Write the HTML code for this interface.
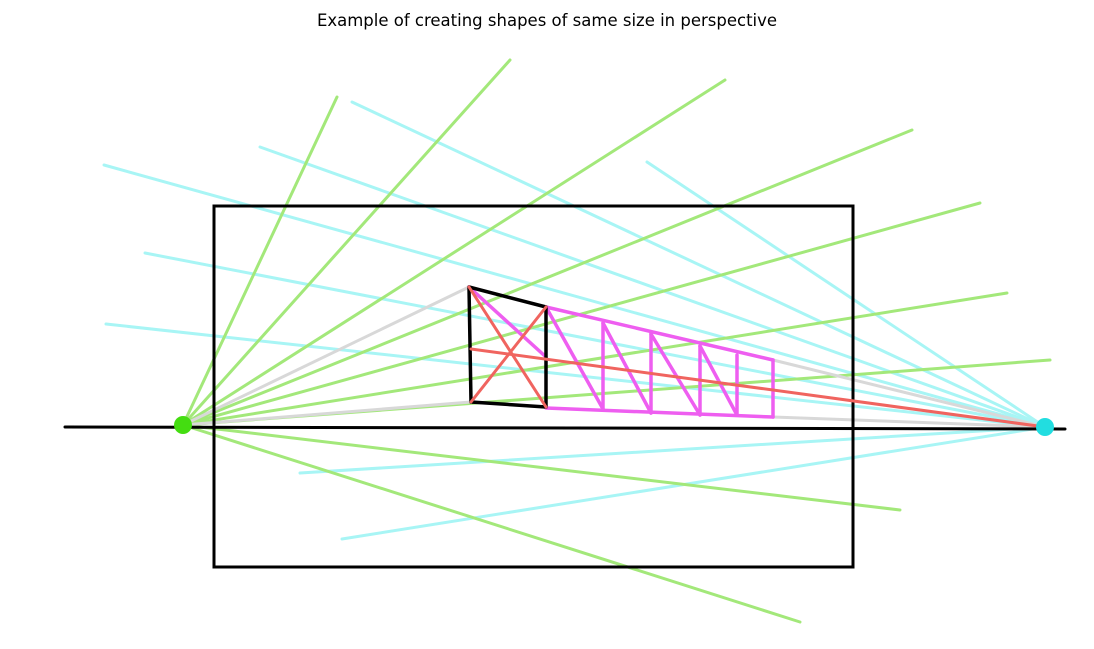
<!DOCTYPE html>
<html><head><meta charset="utf-8"><style>
html,body{margin:0;padding:0;background:#fff;width:1094px;height:649px;overflow:hidden}
</style></head><body>
<svg id="chart" width="1094" height="649" viewBox="0 0 1094 649" xmlns="http://www.w3.org/2000/svg">
<text x="547" y="26" text-anchor="middle" font-family="'DejaVu Sans','Liberation Sans',sans-serif" font-size="16.5" fill="#000">Example of creating shapes of same size in perspective</text>
<g id="layer"></g>
</svg>
<script>
const leftVP=[183,425];
const rightVP=[1045,427];
const greenEnds=[[337,97],[510,60],[725,80],[912,130],[980,203],[1007,293],[1050,360],[900,510],[800,622]];
const cyanEnds=[[104,165],[260,147],[352,102],[647,162],[145,253],[106,324],[300,473],[342,539]];
const grayLines=[[183,425,469,287],[183,425,471,402],[773,360,1045,427],[773,417,1045,427]];
const pinkLines=[[546,307,773,360],[546,408,773,417],[603,323,603,409],[651,334,651,413],[700,346,700,415],[737,355,737,415],[773,360,773,417],[469,287,546,357],[546,307,603,409],[603,323,651,413],[651,334,700,415],[700,346,737,415]];
const redLines=[[469,287,546,407],[471,402,546,307],[471,349,1045,427]];
const blackQuad=[[469,287],[546,307],[546,407],[471,402]];
const g=document.getElementById('layer');
const NS='http://www.w3.org/2000/svg';
function line(x1,y1,x2,y2,c,w,name){
  const l=document.createElementNS(NS,'line');
  l.setAttribute('x1',x1);l.setAttribute('y1',y1);l.setAttribute('x2',x2);l.setAttribute('y2',y2);
  l.setAttribute('stroke',c);l.setAttribute('stroke-width',w);l.setAttribute('stroke-linecap','round');
  
  
  g.appendChild(l);
}
cyanEnds.forEach(p=>line(rightVP[0],rightVP[1],p[0],p[1],'#a8f5f5',3,'cyan-guide-line'));
greenEnds.forEach(p=>line(leftVP[0],leftVP[1],p[0],p[1],'#a3e87a',3,'green-guide-line'));
grayLines.forEach(p=>line(p[0],p[1],p[2],p[3],'#d8d8d8',3,'gray-guide-line'));
const rect=document.createElementNS(NS,'rect');
rect.setAttribute('x',214);rect.setAttribute('y',206);rect.setAttribute('width',639);rect.setAttribute('height',361);
rect.setAttribute('fill','none');rect.setAttribute('stroke','#000');rect.setAttribute('stroke-width',3);


g.appendChild(rect);
line(65,427,1065,429,'#000',3,'horizon-line');
pinkLines.forEach(p=>line(p[0],p[1],p[2],p[3],'#ee5ef0',3.5,'pink-square-line'));
const poly=document.createElementNS(NS,'polygon');
poly.setAttribute('points',blackQuad.map(p=>p.join(',')).join(' '));
poly.setAttribute('fill','none');poly.setAttribute('stroke','#000');poly.setAttribute('stroke-width',3.5);poly.setAttribute('stroke-linejoin','round');


g.appendChild(poly);
redLines.forEach(p=>line(p[0],p[1],p[2],p[3],'#f0645f',3,'red-construction-line'));
[[leftVP,'#44dd11','left-vanishing-point'],[rightVP,'#22dde0','right-vanishing-point']].forEach(d=>{
  const c=document.createElementNS(NS,'circle');
  c.setAttribute('cx',d[0][0]);c.setAttribute('cy',d[0][1]);c.setAttribute('r',9);c.setAttribute('fill',d[1]);
  
  
  g.appendChild(c);
});
</script>
</body></html>
